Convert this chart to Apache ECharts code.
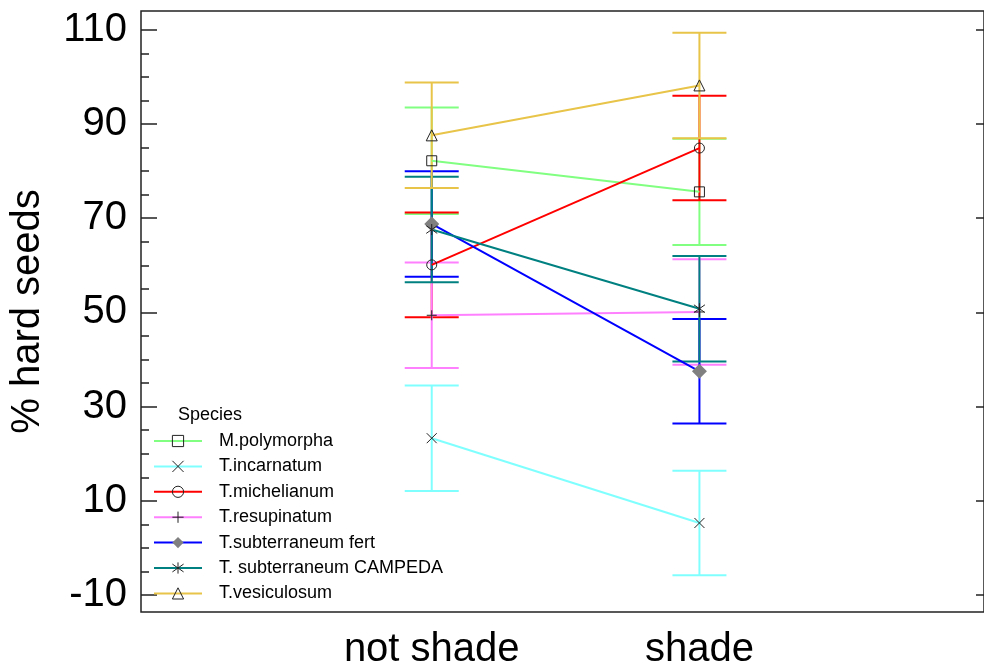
<!DOCTYPE html>
<html>
<head>
<meta charset="utf-8">
<script src="https://cdn.jsdelivr.net/npm/echarts@6/dist/echarts.min.js"></script>
<style>
  html, body { margin: 0; padding: 0; background: #fff; }
  #chart { width: 984px; height: 670px; }
</style>
</head>
<body>
<div id="chart"></div>
<script>
// data
const categories = ['not shade', 'shade'];
const species = ['M.polymorpha', 'T.incarnatum', 'T.michelianum', 'T.resupinatum',
    'T.subterraneum fert', 'T. subterraneum CAMPEDA', 'T.vesiculosum'];
const meanNotShade = [82.2, 23.3, 60.1, 49.4, 68.8, 67.6, 87.6];
const meanShade = [75.6, 5.3, 84.9, 50.1, 37.5, 50.8, 98.2];
const errNotShade = [11.3, 11.2, 11.1, 11.2, 11.2, 11.2, 11.2];
const errShade = [11.3, 11.1, 11.1, 11.2, 11.1, 11.2, 11.2];
const yTickLabels = [-10, 10, 30, 50, 70, 90, 110];
const yMinorTicks = [-5, 0, 5, 15, 20, 25, 35, 40, 45, 55, 60,
    65, 75, 80, 85, 95, 100, 105];

const colors = ['#80FF80', '#80FFFF', '#FF0000', '#FF80FF', '#0000FF', '#008080', '#E8C448'];
const symbols = [
    'rect',
    'path://M0,0L10,10M10,0L0,10',
    'circle',
    'path://M5,0L5,10M0,5L10,5',
    'diamond',
    'path://M5,0L5,10M0,1.5L10,8.5M0,8.5L10,1.5',
    'triangle'
];
const symbolSizes = [10, 10, 10, 10, 15, 11, 11];

const font = 'Liberation Sans, Arial, sans-serif';
const yMin = -13.6, yMax = 114;
const xMin = -1.086, xMax = 2.063;

const series = [];
species.forEach((name, i) => {
    // error bars: vertical line + caps
    series.push({
        name: name + ' err',
        type: 'custom',
        xAxisIndex: 0,
        yAxisIndex: 0,
        data: [[0, meanNotShade[i], errNotShade[i]], [1, meanShade[i], errShade[i]]],
        renderItem: (params, api) => {
            const top = api.coord([api.value(0), api.value(1) + api.value(2)]);
            const bot = api.coord([api.value(0), api.value(1) - api.value(2)]);
            const hw = 27;
            const style = { stroke: colors[i], lineWidth: 2 };
            return {
                type: 'group',
                children: [
                    { type: 'line', shape: { x1: top[0], y1: top[1], x2: bot[0], y2: bot[1] }, style },
                    { type: 'line', shape: { x1: top[0] - hw, y1: top[1], x2: top[0] + hw, y2: top[1] }, style },
                    { type: 'line', shape: { x1: bot[0] - hw, y1: bot[1], x2: bot[0] + hw, y2: bot[1] }, style }
                ]
            };
        },
        silent: true
    });
    const isDiamond = symbols[i] === 'diamond';
    series.push({
        name: name,
        type: 'line',
        xAxisIndex: 0,
        yAxisIndex: 0,
        data: [[0, meanNotShade[i]], [1, meanShade[i]]],
        symbol: symbols[i],
        symbolSize: symbolSizes[i],
        showAllSymbol: true,
        lineStyle: { color: colors[i], width: 2 },
        itemStyle: isDiamond
            ? { color: '#808080', borderWidth: 0 }
            : { color: 'rgba(0,0,0,0)', borderColor: '#222', borderWidth: 1 },
        emphasis: { disabled: true },
        animation: false
    });
});

const chart = echarts.init(document.getElementById('chart'));
chart.setOption({
    animation: false,
    title: {
        text: 'Species',
        left: 173,
        top: 401,
        textStyle: { fontSize: 18, fontWeight: 'normal', color: '#000', fontFamily: font }
    },
    legend: {
        data: species,
        orient: 'vertical',
        left: 153,
        top: 432,
        padding: 0,
        itemWidth: 48,
        itemHeight: 14,
        itemGap: 7.4,
        selectedMode: false,
        itemStyle: { borderWidth: 1 },
        textStyle: { fontSize: 18, color: '#000', fontFamily: font, padding: [0, 0, 0, 12] }
    },
    grid: {
        left: 141,
        right: -1,
        top: 11,
        bottom: 53,
        show: true,
        borderColor: '#222',
        borderWidth: 1.5,
        containLabel: false
    },
    xAxis: {
        type: 'value',
        min: xMin,
        max: xMax,
        splitLine: { show: false },
        axisLine: { show: false, onZero: false },
        axisTick: { show: false },
        axisLabel: {
            customValues: [0, 1],
            formatter: v => categories[Math.round(v)],
            fontSize: 40,
            color: '#000',
            fontFamily: font,
            margin: 18
        }
    },
    yAxis: [
        {
            type: 'value',
            min: yMin,
            max: yMax,
            position: 'left',
            name: '% hard seeds',
            nameLocation: 'middle',
            nameGap: 93,
            nameTextStyle: { fontSize: 40, color: '#000', fontFamily: font },
            splitLine: { show: false },
            axisLine: { show: false, onZero: false },
            axisTick: { show: true, inside: true, length: 16, customValues: yTickLabels,
                lineStyle: { color: '#222', width: 1.5 } },
            axisLabel: { customValues: yTickLabels, fontSize: 40, color: '#000',
                fontFamily: font, margin: 14 }
        },
        {
            type: 'value',
            min: yMin,
            max: yMax,
            position: 'left',
            splitLine: { show: false },
            axisLine: { show: false, onZero: false },
            axisTick: { show: true, inside: true, length: 8, customValues: yMinorTicks,
                lineStyle: { color: '#222', width: 1.5 } },
            axisLabel: { show: false }
        },
        {
            type: 'value',
            min: yMin,
            max: yMax,
            position: 'right',
            splitLine: { show: false },
            axisLine: { show: false, onZero: false },
            axisTick: { show: true, inside: true, length: 8, customValues: yTickLabels,
                lineStyle: { color: '#222', width: 1.5 } },
            axisLabel: { show: false }
        }
    ],
    series: series
});

window.addEventListener('resize', () => chart.resize());
</script>
</body>
</html>
